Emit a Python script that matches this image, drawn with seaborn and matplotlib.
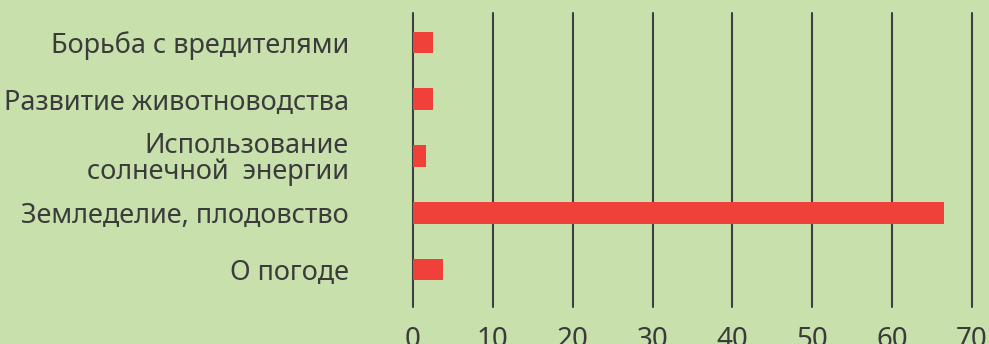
import matplotlib
matplotlib.use("Agg")
import matplotlib.pyplot as plt
import seaborn as sns
import pandas as pd

categories = [
    "Борьба с вредителями",
    "Развитие животноводства",
    "Использование\nсолнечной  энергии",
    "Земледелие, плодовство",
    "О погоде",
]
values = [2.5, 2.5, 1.6, 66.5, 3.7]
x_ticks = [0, 10, 20, 30, 40, 50, 60, 70]

BG = "#c7e0ac"
BAR = "#ef4139"
INK = "#3b3b3b"

sns.set_theme(style="white")
plt.rcParams["font.family"] = ["Noto Sans", "DejaVu Sans"]

df = pd.DataFrame({"topic": categories, "share": values})

fig = plt.figure(figsize=(9.89, 3.44), dpi=100, facecolor=BG)
ax = fig.add_axes([413 / 989, (344 - 307) / 344, (972 - 413) / 989, (307 - 13) / 344])
ax.set_facecolor(BG)

sns.barplot(data=df, x="share", y="topic", orient="h", color=BAR,
            saturation=1, width=0.38, linewidth=0, ax=ax, zorder=3)

ax.set_xlim(0, 70)
ax.set_ylim(4.66, -0.52)
ax.set_xticks(x_ticks)
ax.set_xticklabels([str(t) for t in x_ticks])
ax.set_xlabel("")
ax.set_ylabel("")

ax.grid(axis="x", color="#3f3f3f", linewidth=1.5, zorder=1)
ax.grid(axis="y", visible=False)
for gl in ax.get_xgridlines():
    gl.set_clip_on(False)
ax.set_axisbelow(True)

for s in ax.spines.values():
    s.set_visible(False)

ax.tick_params(axis="y", length=0, pad=46, labelsize=19.5, labelcolor=INK)
ax.tick_params(axis="x", length=0, pad=14, labelsize=20, labelcolor=INK)
for lbl in ax.get_yticklabels():
    lbl.set_horizontalalignment("right")
    lbl.set_multialignment("right")
    lbl.set_linespacing(0.95)

fig.savefig("out.png", dpi=100, facecolor=BG)
